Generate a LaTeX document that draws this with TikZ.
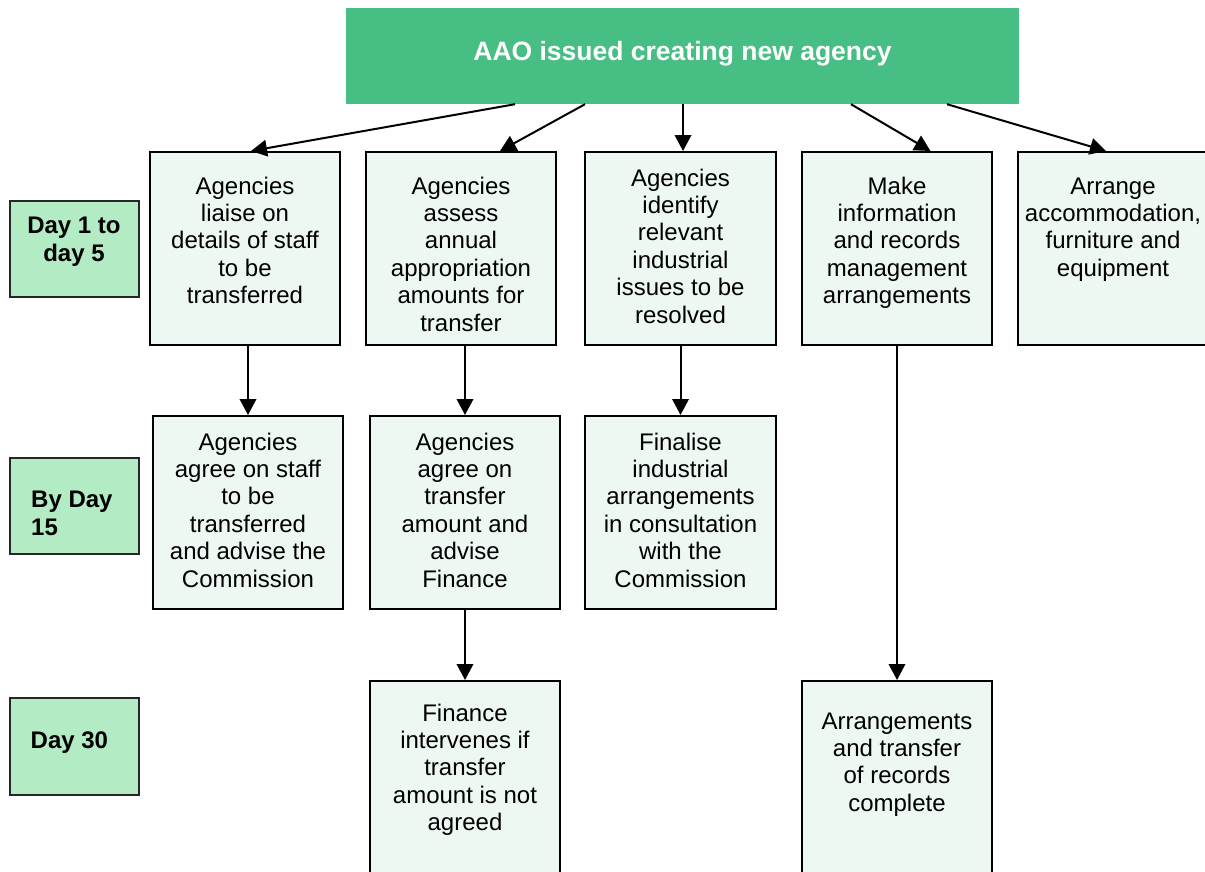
\documentclass[tikz,border=0pt]{standalone}
\usepackage{fontspec}
\setmainfont{Liberation Sans}
\usetikzlibrary{arrows.meta,calc}
\definecolor{titlegreen}{RGB}{71,191,132}
\definecolor{daygreen}{RGB}{179,235,197}
\definecolor{paleg}{RGB}{238,248,242}
\begin{document}
\begin{tikzpicture}[x=1pt,y=-1pt,
  box/.style={draw=black, line width=2pt, fill=paleg, inner sep=0pt, minimum width=190pt, minimum height=193pt},
  daybox/.style={draw=black!85, line width=2pt, fill=daygreen, inner sep=0pt, minimum width=129pt, minimum height=96pt},
  btext/.style={inner sep=0pt, align=center, anchor=north, font=\fontsize{24}{27.4}\selectfont},
  dtext/.style={inner sep=0pt, font=\bfseries\fontsize{24}{28.5}\selectfont},
  arr/.style={line width=2pt, -{Triangle[length=16pt,width=16.5pt]}}]
\fill[white] (0,0) rectangle (1205,871);
\clip (0,0) rectangle (1205,871);

\node[fill=titlegreen, minimum width=673pt, minimum height=96pt, inner sep=0pt, text=white,
  font=\bfseries\fontsize{26.5}{30}\selectfont, text height=19pt, text depth=11pt]
  (title) at (682.5,56) {AAO issued creating new agency};

\node[box] (a1) at (245,248.5) {};
\node[box] (a2) at (461,248.5) {};
\node[box, minimum width=191pt] (a3) at (680.5,248.5) {};
\node[box] (a4) at (897,248.5) {};
\node[box, minimum width=196pt] (a5) at (1116,248.5) {};
\node[box] (b1) at (248,512.5) {};
\node[box] (b2) at (465,512.5) {};
\node[box, minimum width=191pt] (b3) at (680.5,512.5) {};
\node[box, minimum height=206pt] (c2) at (465,784) {};
\node[box, minimum height=206pt] (c4) at (897,784) {};

\node[btext] (a1t) at (245,174.8) {\strut Agencies\\liaise on\\details of staff\\to be\\transferred};
\node[btext] (a2t) at (461,174.8) {\strut Agencies\\assess\\annual\\appropriation\\amounts for\\transfer};
\node[btext] (a3t) at (680.5,166.8) {\strut Agencies\\identify\\relevant\\industrial\\issues to be\\resolved};
\node[btext] (a4t) at (897,174.8) {\strut Make\\information\\and records\\management\\arrangements};
\node[btext] (a5t) at (1113,174.8) {\strut Arrange\\accommodation,\\furniture and\\equipment};
\node[btext] (b1t) at (248,430.8) {\strut Agencies\\agree on staff\\to be\\transferred\\and advise the\\Commission};
\node[btext] (b2t) at (465,430.8) {\strut Agencies\\agree on\\transfer\\amount and\\advise\\Finance};
\node[btext] (b3t) at (680.5,430.8) {\strut Finalise\\industrial\\arrangements\\in consultation\\with the\\Commission};
\node[btext] (c2t) at (465,701.8) {\strut Finance\\intervenes if\\transfer\\amount is not\\agreed};
\node[btext] (c4t) at (897,709.8) {\strut Arrangements\\and transfer\\of records\\complete};

\node[daybox] (d1) at (74,248.7) {};
\node[daybox] (d2) at (74,506) {};
\node[daybox, minimum height=97pt] (d3) at (74,746) {};
\node[dtext, align=center, anchor=north] (d1t) at (74,213.05) {\strut Day 1 to\\day 5};
\node[dtext, align=left, anchor=north west] (d2t) at (31,487.05) {\strut By Day\\15};
\node[dtext, anchor=base west] (d3t) at (30.5,748) {Day 30};

\draw[arr] ([xshift=-167.5pt]title.south) -- ([xshift=6pt]a1.north);
\draw[arr] ([xshift=-97.5pt]title.south) -- ([xshift=39pt]a2.north);
\draw[arr] ([xshift=0.5pt]title.south) -- ([xshift=2.5pt]a3.north);
\draw[arr] ([xshift=168.5pt]title.south) -- ([xshift=33.5pt]a4.north);
\draw[arr] ([xshift=264.5pt]title.south) -- ([xshift=-10pt]a5.north);

\draw[arr] (a1.south -| b1.north) -- (b1.north);
\draw[arr] (a2.south -| b2.north) -- (b2.north);
\draw[arr] (a3.south) -- (b3.north);
\draw[arr] (b2.south) -- (c2.north);
\draw[arr] (a4.south) -- (c4.north);
\end{tikzpicture}
\end{document}
